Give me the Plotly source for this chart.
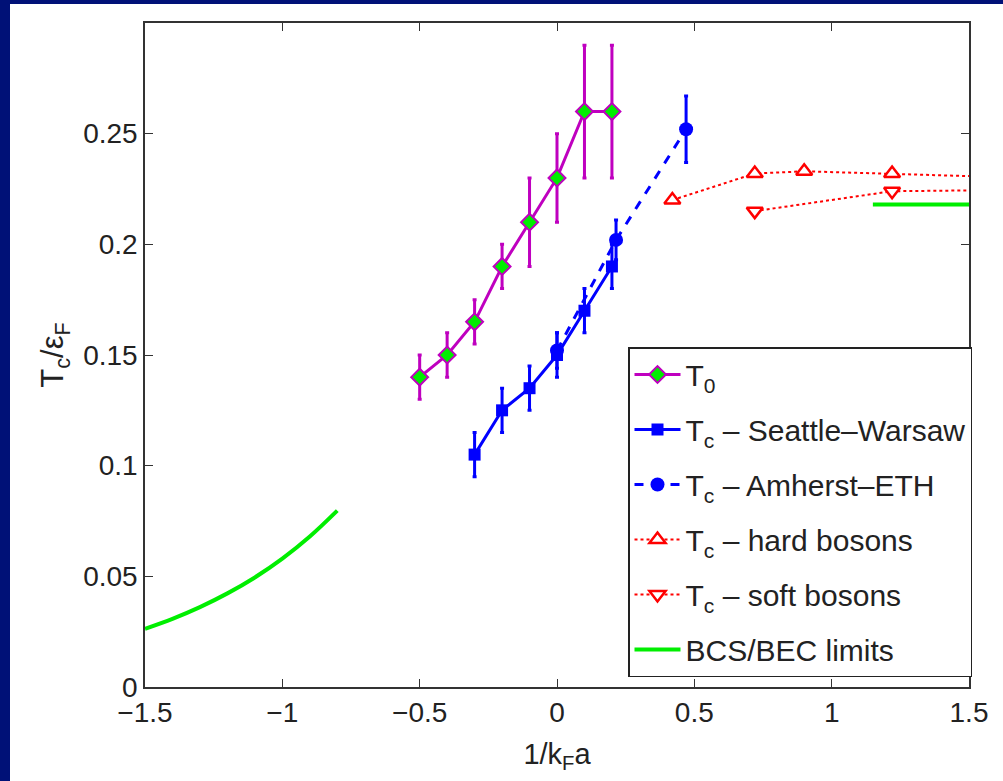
import plotly.graph_objects as go

# ---- data ----
t0_x = [-0.5, -0.4, -0.3, -0.2, -0.1, 0.0, 0.1, 0.2]
t0_y = [0.140, 0.150, 0.165, 0.190, 0.210, 0.230, 0.260, 0.260]
t0_err = [0.010, 0.010, 0.010, 0.010, 0.020, 0.020, 0.030, 0.030]

sw_x = [-0.3, -0.2, -0.1, 0.0, 0.1, 0.2]
sw_y = [0.105, 0.125, 0.135, 0.150, 0.170, 0.190]
sw_err = [0.010, 0.010, 0.010, 0.010, 0.010, 0.010]

ae_x = [0.0, 0.215, 0.47]
ae_y = [0.152, 0.202, 0.252]
ae_err = [0.008, 0.009, 0.015]

hard_x = [0.42, 0.72, 0.90, 1.22, 2.0]
hard_y = [0.220, 0.232, 0.233, 0.232, 0.229]

soft_x = [0.72, 1.22, 2.0]
soft_y = [0.215, 0.224, 0.225]

bcs_x = [-1.5, -1.4, -1.3, -1.2, -1.1, -1.0, -0.9, -0.8]
bcs_y = [0.0263, 0.0308, 0.0361, 0.0423, 0.0495, 0.0580, 0.0680, 0.0797]

bec_x = [1.15, 1.5]
bec_y = [0.218, 0.218]

xticks = [-1.5, -1, -0.5, 0, 0.5, 1, 1.5]
yticks = [0, 0.05, 0.1, 0.15, 0.2, 0.25]

MAG = "#BF00BF"
BLUE = "#0000FF"
RED = "#FF0000"
GREEN = "#00EE00"
NAVY = "#001177"
FONT = "Liberation Sans, Arial, sans-serif"
TXT = "#222222"

fig = go.Figure()

fig.add_trace(go.Scatter(
    x=t0_x, y=t0_y, mode="lines+markers", name="T<sub>0</sub>", legendgroup="a",
    line=dict(color=MAG, width=3),
    marker=dict(symbol="diamond", size=13, color=GREEN, line=dict(color=MAG, width=2)),
    error_y=dict(type="data", array=t0_err, color=MAG, thickness=3, width=2)))

fig.add_trace(go.Scatter(
    x=sw_x, y=sw_y, mode="lines+markers", name="T<sub>c</sub> – Seattle–Warsaw", legendgroup="b",
    line=dict(color=BLUE, width=3),
    marker=dict(symbol="square", size=12, color=BLUE),
    error_y=dict(type="data", array=sw_err, color=BLUE, thickness=3, width=2)))

fig.add_trace(go.Scatter(
    x=ae_x, y=ae_y, mode="lines+markers", name="T<sub>c</sub> – Amherst–ETH", legendgroup="c",
    line=dict(color=BLUE, width=3, dash="dash"),
    marker=dict(symbol="circle", size=14, color=BLUE),
    error_y=dict(type="data", array=ae_err, color=BLUE, thickness=3, width=2)))

fig.add_trace(go.Scatter(
    x=hard_x, y=hard_y, mode="lines+markers", name="T<sub>c</sub> – hard bosons", legendgroup="d",
    line=dict(color=RED, width=2, dash="dot"),
    marker=dict(symbol="triangle-up", size=14, color="white", line=dict(color=RED, width=2.5))))

fig.add_trace(go.Scatter(
    x=soft_x, y=soft_y, mode="lines+markers", name="T<sub>c</sub> – soft bosons", legendgroup="e",
    line=dict(color=RED, width=2, dash="dot"),
    marker=dict(symbol="triangle-down", size=14, color="white", line=dict(color=RED, width=2.5))))

fig.add_trace(go.Scatter(
    x=bcs_x, y=bcs_y, mode="lines", name="BCS/BEC limits", legendgroup="f",
    line=dict(color=GREEN, width=4, shape="spline")))

fig.add_trace(go.Scatter(
    x=bec_x, y=bec_y, mode="lines", name="BCS/BEC limits", legendgroup="f", showlegend=False,
    line=dict(color=GREEN, width=4)))

# plot area: x 145..969, y 23..687 in a 1003x781 page
L, R, T, B = 145, 34, 23, 94
W = 1003 - L - R
H = 781 - T - B

def px(x):
    return (x - L) / W

def py(y):
    return (781 - B - y) / H

# navy frame on the left and top edges
fig.add_shape(type="rect", xref="paper", yref="paper", layer="below",
              x0=px(-20), x1=px(10), y0=py(900), y1=py(-20),
              fillcolor=NAVY, line=dict(width=0))
fig.add_shape(type="rect", xref="paper", yref="paper", layer="below",
              x0=px(-20), x1=px(1100), y0=py(4), y1=py(-20),
              fillcolor=NAVY, line=dict(width=0))

axis_common = dict(showline=True, linecolor="#333333", linewidth=1.5, mirror="ticks",
                   ticks="inside", ticklen=8, tickwidth=1.2, tickcolor="#333333",
                   showgrid=False, zeroline=False,
                   tickfont=dict(family=FONT, size=28, color=TXT))

fig.update_xaxes(range=[-1.5, 1.5], tickvals=xticks,
                 ticktext=["−1.5", "−1", "−0.5", "0", "0.5", "1", "1.5"],
                 title=dict(text="1/k<sub>F</sub>a", font=dict(family=FONT, size=29, color=TXT), standoff=16),
                 **axis_common)
fig.update_yaxes(range=[0, 0.3], tickvals=yticks,
                 ticktext=["0", "0.05", "0.1", "0.15", "0.2", "0.25"],
                 title=dict(text="T<sub>c</sub>/ε<sub>F</sub>", font=dict(family=FONT, size=31, color=TXT), standoff=10),
                 **axis_common)

fig.update_layout(
    width=1003, height=781,
    margin=dict(l=L, r=R, t=T, b=B, pad=0),
    paper_bgcolor="white", plot_bgcolor="white",
    font=dict(family=FONT, color=TXT),
    showlegend=True,
    legend=dict(x=px(628), y=py(347), xanchor="left", yanchor="top",
                bgcolor="white", bordercolor="#222222", borderwidth=1.5,
                font=dict(family=FONT, size=30, color=TXT),
                traceorder="grouped", tracegroupgap=13, itemwidth=46),
)

fig.write_html("out.html")
